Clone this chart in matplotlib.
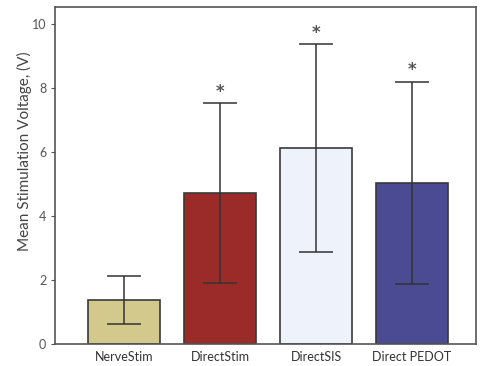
import matplotlib.pyplot as plt
import numpy as np

plt.rcParams["font.family"] = ["Lato", "DejaVu Sans"]

groups = ["NerveStim", "DirectStim", "DirectSIS", "Direct PEDOT"]
means = [1.38, 4.72, 6.13, 5.03]
errors = [0.75, 2.8, 3.24, 3.17]
significant = [False, True, True, True]
colors = ["#d3c98c", "#9a2b29", "#eef2fa", "#4b4b93"]

fig = plt.figure(figsize=(4.8, 3.66), dpi=100)
ax = fig.add_axes([0.115, 0.06, 0.877, 0.921])

x = np.arange(len(groups))
ax.bar(x, means, width=0.75, color=colors, edgecolor="#3a3a3a", linewidth=1.2, zorder=2)
ax.errorbar(x, means, yerr=errors, fmt="none", ecolor="#333333", elinewidth=1.1,
            capsize=12, capthick=1.1, zorder=3)

for xi, m, e, s in zip(x, means, errors, significant):
    if s:
        ax.text(xi, m + e + 0.35, "*", ha="center", va="center", fontsize=12,
                fontweight="bold", color="#555555", family="DejaVu Sans")

ax.set_xlim(-0.72, 3.67)
ax.set_ylim(0, 10.53)
ax.set_xticks(x)
ax.set_xticklabels(groups, fontsize=9, color="#333333")
ax.tick_params(axis="x", length=0, pad=5)
ax.set_yticks([0, 2, 4, 6, 8, 10])
ax.tick_params(axis="y", labelsize=9, colors="#555555", length=3, direction="out")
ax.set_ylabel("Mean Stimulation Voltage, (V)", fontsize=11, color="#444444")
ax.yaxis.set_label_coords(-0.055, 0.573)

for side in ax.spines.values():
    side.set_color("#555555")
    side.set_linewidth(1.2)

fig.savefig("out.png", dpi=100)
